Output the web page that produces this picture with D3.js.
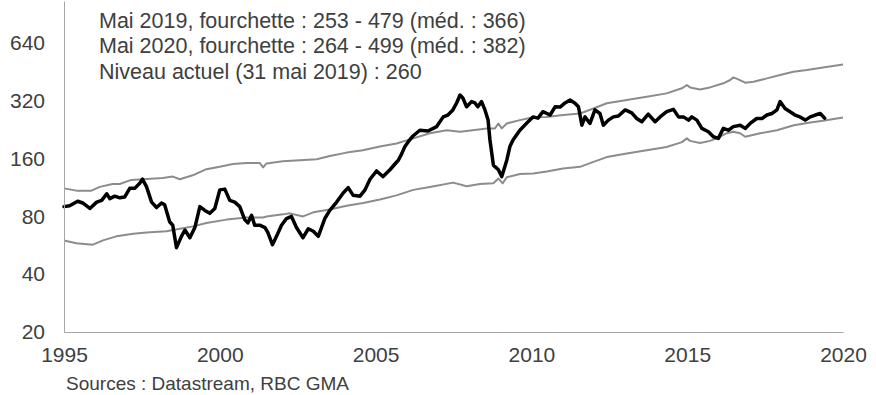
<!DOCTYPE html>
<html>
<head>
<meta charset="utf-8">
<script src="https://cdn.jsdelivr.net/npm/d3@7"></script>
<style>
  html, body { margin: 0; padding: 0; background: #fff; }
  svg { display: block; font-family: "Liberation Sans", Arial, sans-serif; }
</style>
</head>
<body>
<svg id="chart" width="876" height="395"></svg>
<script>
// Index level (log scale), 1995 to May 2019
const indexYears = [
  1995.00, 1995.18, 1995.44, 1995.60, 1995.83, 1996.05, 1996.21, 1996.37, 1996.47, 1996.63,
  1996.79, 1996.95, 1997.11, 1997.27, 1997.43, 1997.52, 1997.65, 1997.81, 1997.97, 1998.13,
  1998.23, 1998.39, 1998.49, 1998.61, 1998.77, 1998.88, 1999.04, 1999.20, 1999.36, 1999.52,
  1999.68, 1999.84, 2000.00, 2000.16, 2000.32, 2000.48, 2000.64, 2000.80, 2000.90, 2001.02,
  2001.12, 2001.28, 2001.45, 2001.54, 2001.69, 2001.82, 2001.98, 2002.14, 2002.30, 2002.46,
  2002.67, 2002.84, 2003.00, 2003.16, 2003.37, 2003.53, 2003.75, 2003.96, 2004.12, 2004.28,
  2004.50, 2004.66, 2004.82, 2005.03, 2005.24, 2005.46, 2005.62, 2005.73, 2005.84, 2005.94,
  2006.05, 2006.20, 2006.42, 2006.68, 2006.96, 2007.17, 2007.32, 2007.48, 2007.60, 2007.71,
  2007.80, 2007.92, 2008.08, 2008.19, 2008.28, 2008.40, 2008.51, 2008.61, 2008.67, 2008.78,
  2008.94, 2009.05, 2009.21, 2009.31, 2009.41, 2009.63, 2009.85, 2010.05, 2010.21, 2010.37,
  2010.60, 2010.76, 2010.92, 2011.08, 2011.24, 2011.40, 2011.51, 2011.62, 2011.72, 2011.88,
  2012.04, 2012.20, 2012.31, 2012.47, 2012.63, 2012.79, 2013.01, 2013.22, 2013.38, 2013.54,
  2013.75, 2013.97, 2014.13, 2014.34, 2014.56, 2014.72, 2014.88, 2015.04, 2015.15, 2015.31,
  2015.47, 2015.68, 2015.84, 2016.00, 2016.16, 2016.32, 2016.48, 2016.70, 2016.86, 2017.02,
  2017.23, 2017.40, 2017.56, 2017.72, 2017.88, 2017.98, 2018.14, 2018.30, 2018.46, 2018.62,
  2018.79, 2018.95, 2019.11, 2019.27, 2019.41
];
const indexValues = [
  90, 91, 96, 94, 88, 95, 97, 105, 99, 102,
  100, 101, 112, 112, 119, 125, 114, 95, 89, 94,
  92, 75, 72, 55, 63, 68, 62, 70, 90, 86,
  83, 88, 110, 111, 97, 95, 90, 77, 74, 81,
  72, 72, 70, 66, 57, 63, 72, 78, 80, 70,
  62, 69, 67, 63, 78, 86, 95, 106, 113, 103,
  102, 110, 125, 138, 129, 140, 150, 157, 170, 185,
  196, 210, 225, 223, 235, 264, 270, 287, 312, 343,
  331, 298, 317, 312, 298, 317, 287, 254, 200, 148,
  140, 129, 157, 185, 200, 225, 245, 264, 260, 281,
  270, 298, 297, 312, 323, 311, 298, 239, 264, 244,
  287, 275, 239, 254, 264, 267, 287, 277, 259, 249,
  273, 249, 264, 281, 289, 264, 264, 254, 264, 254,
  230, 221, 208, 204, 230, 225, 235, 239, 230, 244,
  259, 259, 270, 275, 287, 317, 292, 281, 270, 264,
  254, 264, 270, 275, 260
];

// Upper bound of the fair-value range
const upperYears = [
  1995.00, 1995.40, 1995.88, 1996.15, 1996.56, 1996.79, 1997.16, 1997.53, 1998.17, 1998.49,
  1998.72, 1999.13, 1999.57, 2000.00, 2000.42, 2000.86, 2001.28, 2001.39, 2001.50, 2002.02,
  2002.57, 2003.11, 2003.53, 2004.07, 2004.59, 2005.14, 2005.67, 2006.21, 2006.74, 2007.28,
  2007.71, 2008.12, 2008.56, 2008.83, 2008.94, 2009.05, 2009.21, 2009.63, 2010.06, 2010.49,
  2011.02, 2011.56, 2011.99, 2012.42, 2013.06, 2013.70, 2014.34, 2014.83, 2014.99, 2015.09,
  2015.41, 2015.73, 2016.16, 2016.38, 2016.48, 2016.64, 2016.86, 2017.13, 2017.56, 2017.98,
  2018.41, 2018.84, 2019.41, 2020.00
];
const upperValues = [
  112, 109, 109, 114, 118, 118, 124, 125, 127, 129,
  125, 131, 141, 145, 150, 152, 152, 144, 151, 155,
  157, 159, 165, 172, 177, 185, 192, 204, 217, 225,
  221, 225, 230, 230, 244, 230, 244, 254, 263, 264,
  270, 275, 292, 311, 323, 336, 350, 372, 387, 376,
  367, 376, 395, 411, 424, 414, 398, 402, 419, 436,
  454, 463, 479, 495
];

// Lower bound of the fair-value range
const lowerYears = [
  1995.00, 1995.40, 1995.93, 1996.25, 1996.68, 1997.22, 1997.65, 1998.29, 1998.72, 1999.14,
  1999.57, 2000.22, 2000.86, 2001.39, 2001.50, 2002.03, 2002.25, 2002.67, 2003.00, 2003.53,
  2004.07, 2004.60, 2005.14, 2005.67, 2006.21, 2006.74, 2007.49, 2007.92, 2008.35, 2008.78,
  2008.94, 2009.08, 2009.21, 2009.63, 2010.06, 2010.49, 2011.02, 2011.56, 2011.99, 2012.42,
  2013.06, 2013.70, 2014.34, 2014.83, 2014.99, 2015.09, 2015.41, 2015.73, 2015.95, 2016.27,
  2016.48, 2016.70, 2016.86, 2017.34, 2017.88, 2018.42, 2018.95, 2019.41, 2020.00
];
const lowerValues = [
  60, 58, 57, 60, 63, 65, 66, 67, 69, 71,
  74, 77, 79, 79, 80, 82, 83, 80, 84, 87,
  91, 94, 98, 103, 110, 114, 120, 115, 118, 119,
  126, 119, 128, 133, 134, 137, 142, 145, 154, 163,
  170, 177, 184, 195, 204, 198, 193, 198, 204, 217,
  221, 217, 208, 217, 225, 239, 247, 253, 262
];

const yearTicks = [1995, 2000, 2005, 2010, 2015, 2020];
const levelTicks = [20, 40, 80, 160, 320, 640];

const notes = [
  "Mai 2019, fourchette : 253 - 479 (méd. : 366)",
  "Mai 2020, fourchette : 264 - 499 (méd. : 382)",
  "Niveau actuel (31 mai 2019) : 260"
];
const sourceNote = "Sources : Datastream, RBC GMA";

// ---- drawing ----
const svg = d3.select("#chart");
const textColor = "#404040";
const axisColor = "#a6a6a6";

const x = d3.scaleLinear().domain([1995, 2020]).range([64, 843]);
const y = d3.scaleLog().base(2).domain([20, 1060]).range([332, 1]);

const toPoints = (years, values) => years.map((t, i) => ({ t, v: values[i] }));
const line = d3.line().x(d => x(d.t)).y(d => y(d.v));

// bands
svg.append("path")
  .datum(toPoints(upperYears, upperValues))
  .attr("d", line)
  .attr("fill", "none")
  .attr("stroke", "#8c8c8c")
  .attr("stroke-width", 2)
  .attr("stroke-linejoin", "round");

svg.append("path")
  .datum(toPoints(lowerYears, lowerValues))
  .attr("d", line)
  .attr("fill", "none")
  .attr("stroke", "#8c8c8c")
  .attr("stroke-width", 2)
  .attr("stroke-linejoin", "round");

// index
svg.append("path")
  .datum(toPoints(indexYears, indexValues))
  .attr("d", line)
  .attr("fill", "none")
  .attr("stroke", "#000")
  .attr("stroke-width", 3.5)
  .attr("stroke-linejoin", "round")
  .attr("stroke-linecap", "round");

// axes
const xAxis = svg.append("g")
  .attr("transform", `translate(0,${y(20)})`)
  .call(d3.axisBottom(x).tickValues(yearTicks).tickFormat(d3.format("d")).tickSize(0).tickPadding(15));
const yAxis = svg.append("g")
  .attr("transform", `translate(${x(1995)},0)`)
  .call(d3.axisLeft(y).tickValues(levelTicks).tickFormat(d3.format("d")).tickSize(0).tickPadding(19));

[xAxis, yAxis].forEach(g => {
  g.select(".domain").attr("stroke", axisColor).attr("stroke-width", 1);
  g.selectAll("text")
    .attr("fill", textColor)
    .style("font-size", "21px")
    .style("font-family", "'Liberation Sans', Arial, sans-serif");
});

// annotation block
svg.append("g")
  .selectAll("text")
  .data(notes)
  .join("text")
  .attr("x", 99)
  .attr("y", (d, i) => 27.5 + i * 25.5)
  .attr("fill", textColor)
  .style("font-size", "21.5px")
  .text(d => d);

svg.append("text")
  .attr("x", 66)
  .attr("y", 390)
  .attr("fill", textColor)
  .style("font-size", "19px")
  .text(sourceNote);
</script>
</body>
</html>
